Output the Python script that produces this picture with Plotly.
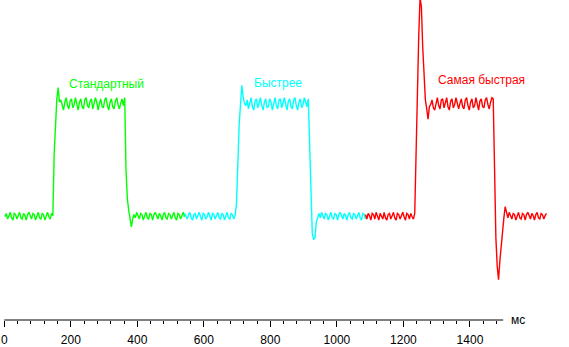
import numpy as np
import plotly.graph_objects as go

STEP_MS = 4

# --- "Стандартный" (green) ---
std_start = 2
std_base_a = [-1, 2, -3, 1, 3, -2, -4, 2, 1, -3, 0, 3, -2, -3, 2, 0, -4, 1, 3, -1,
              -3, 2, 1, -4, 0, 3, -2, -3, 2, 1, -4, 0, 3, -1, -3, 2, 0]
std_rise = [55, 88, 104, 114, 101]
std_top = [103, 97, 94, 101, 105, 98, 95, 102, 104, 96, 99, 105, 100, 94, 101, 104,
           97, 95, 103, 105, 98, 96, 102, 104, 95, 99, 105, 101, 94, 100, 104, 97,
           96, 103, 105, 98, 94, 101, 104, 97, 95, 102, 105, 99, 95, 100, 104, 98]
std_fall = [105, 40, 15, 5, -5, -10, -3]
std_base_b = [1, -2, 3, 0, -3, 2, 1, -4, 0, 3, -2, -3, 2, 1, -4, 1, 3, -1, -3, 2,
              0, -4, 1, 3, -2, -3, 2, 1, -3, 0, 3, -2, -4, 2, 1, -3, 0, 3, -1]

# --- "Быстрее" (cyan) ---
fast_start = 542
fast_base_a = [2, -1, -3, 1, 3, -2, -4, 1, 2, -3, 0, 3, -1, -4, 2, 1, -3, -1, 3, 0,
               -4, 2, 1, -3, 0, 3, -2, -3, 2, 1, -4, 0, 3, -2, -3, 2, 1, -3, 0]
fast_rise = [10, 55, 80, 98, 116, 106, 100]
fast_top = [98, 103, 95, 100, 105, 97, 94, 102, 104, 96, 100, 105, 98, 94, 101, 104,
            96, 97, 104, 101, 94, 99, 105, 98, 95, 103, 104, 96, 100, 105, 99, 94,
            102, 104, 97, 95, 103, 105, 98, 94, 101, 104, 96, 99, 105, 100, 97]
fast_fall = [104, 60, 5, -16, -21, -20, -6, -1]
fast_base_b = [2, -2, 3, 0, -3, 2, 1, -4, 0, 3, -2, -3, 2, 1, -4, 1, 3, -1, -3, 2,
               0, -4, 1, 3, -2, -3, 2, 1, -3, 0, 3, -2, -4, 2, 1, -3]

# --- "Самая быстрая" (red) ---
fastest_start = 1086
fastest_base_a = [1, -3, 2, 0, -4, 2, 1, -3, 3, -1, -4, 2, 0, -3, 3, -2, -4, 1, 2, -3,
                  0, 3, -2, -4, 2, 1, -3, 0, 3, -1, -4, 2, 1, -3, 2, -1, -3]
fastest_rise = [2, 62, 118, 160, 194, 186, 150, 120, 103, 95, 86, 97]
fastest_top = [99, 103, 96, 94, 101, 105, 98, 95, 103, 104, 96, 100, 105, 97, 94, 102,
               104, 96, 99, 105, 101, 95, 100, 104, 97, 95, 103, 105, 98, 94, 101, 104,
               96, 98, 105, 100, 94, 102, 104, 97, 96, 103, 105, 99, 95, 101, 105]
fastest_fall = [104, 30, -20, -45, -57, -40, -25, -10, -2, 8, 1]
fastest_base_b = [-2, 3, 0, -3, 2, 1, -4, 0, 3, -2, -3, 2, 1, -4, 1, 3, -1, -3, 2, 0,
                  -4, 1, 3, -2, -3, 2, 1, -3, 0, 2]

series = [
    ("Стандартный", "#00ff00", std_start,
     std_base_a + std_rise + std_top + std_fall + std_base_b, 190, 117),
    ("Быстрее", "#00ffff", fast_start,
     fast_base_a + fast_rise + fast_top + fast_fall + fast_base_b, 746, 118),
    ("Самая быстрая", "#ff0000", fastest_start,
     fastest_base_a + fastest_rise + fastest_top + fastest_fall + fastest_base_b, 1297, 121),
]

major_ticks = [0, 200, 400, 600, 800, 1000, 1200, 1400]
minor_ticks = [v for v in range(40, 1481, 40) if v % 200 != 0]
axis_end = 1500

fig = go.Figure()
annotations = []
for name, color, start, vals, lx, ly in series:
    t = start + STEP_MS * np.arange(len(vals))
    fig.add_trace(go.Scatter(x=t, y=vals, mode="lines", name=name,
                             line=dict(color=color, width=1.4), hoverinfo="skip"))
    annotations.append(dict(x=lx, y=ly, xref="x", yref="y", text=name,
                            showarrow=False, xanchor="left", yanchor="middle",
                            font=dict(color=color, size=12)))

annotations.append(dict(x=1516, y=0, xref="x", yref="paper", text="мс",
                        showarrow=False, xanchor="left", yanchor="middle",
                        font=dict(color="#000000", size=12)))

fig.update_layout(
    width=569, height=347,
    margin=dict(l=0, r=0, t=0, b=25),
    paper_bgcolor="white", plot_bgcolor="white",
    showlegend=False,
    font=dict(family="Liberation Sans, Arial, sans-serif", size=12, color="#000000"),
    annotations=annotations,
    shapes=[dict(type="line", xref="x", yref="paper", x0=0, x1=axis_end, y0=0, y1=0,
                 line=dict(color="#000000", width=1))],
    xaxis=dict(range=[-12.9, 1697.8], showgrid=False, zeroline=False, showline=False,
               tickmode="array", tickvals=major_ticks, ticks="outside", ticklen=6,
               tickcolor="#000000", tickwidth=1, ticklabelstandoff=3,
               tickfont=dict(size=12, color="#000000"),
               minor=dict(tickmode="array", tickvals=minor_ticks, ticks="outside",
                          ticklen=3, tickcolor="#000000", tickwidth=1)),
    yaxis=dict(range=[-92.9, 192.0], visible=False, showgrid=False, zeroline=False),
)

fig.write_html("out.html")
